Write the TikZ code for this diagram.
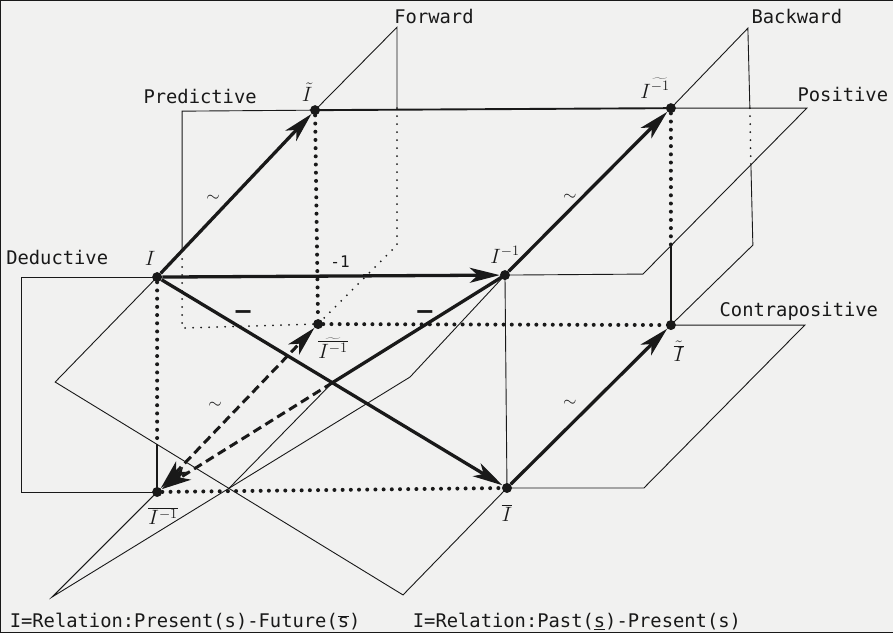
\documentclass[tikz,border=0pt]{standalone}
\usepackage{fontspec}
\newfontfamily\monof{DejaVu Sans Mono}
\newfontfamily\dvs{DejaVu Sans}
\usetikzlibrary{arrows.meta}
\definecolor{bg}{RGB}{241,241,240}
\definecolor{ink}{RGB}{25,25,25}
\begin{document}
\begin{tikzpicture}[x=1pt,y=-1pt,
  every path/.style={draw=ink},
  thinl/.style={line width=0.9pt},
  medl/.style={line width=1.9pt},
  thickarr/.style={line width=3.3pt,-{Stealth[length=30pt,width=15pt,inset=8pt]}},
  bigdots/.style={line width=4pt,line cap=round,dash pattern=on 0pt off 8.2pt},
  smalldots/.style={line width=2pt,line cap=round,dash pattern=on 0pt off 8pt},
  dashthick/.style={line width=3pt,dash pattern=on 9pt off 5pt},
  vtx/.style={circle,fill=ink,draw=none,inner sep=0pt,minimum size=10pt},
  plab/.style={font=\monof\fontsize{18.8}{20}\selectfont,text=ink,inner sep=0pt},
  mlab/.style={font=\fontsize{20.74}{24}\selectfont,text=ink,inner sep=0pt},
  elab/.style={font=\fontsize{17.28}{20}\selectfont,text=ink,inner sep=0pt},
  barlab/.style={font=\dvs\bfseries\fontsize{24}{26}\selectfont,text=ink,inner sep=0pt},
]
\fill[bg,draw=none] (0,0) rectangle (893,632);
\useasboundingbox (0,0) rectangle (893,632);

% vertices of the cube
\node[vtx] (I)    at (157,277) {};
\node[vtx] (It)   at (315,110) {};
\node[vtx] (Ii)   at (505,275) {};
\node[vtx] (Iti)  at (671,108) {};
\node[vtx] (Ib)   at (507,488) {};
\node[vtx] (Ib1)  at (157,492) {};
\node[vtx] (Itb)  at (671,325) {};
\node[vtx] (Itb1) at (318,324) {};

% plane corners
\coordinate (dA) at (21,277);
\coordinate (dB) at (21,492);
\coordinate (pA) at (182,111);
\coordinate (pB) at (182,251);
\coordinate (pC) at (182,328);
\coordinate (posA) at (643,274);
\coordinate (posB) at (807,108);
\coordinate (conA) at (644,488);
\coordinate (conB) at (805,325);
\coordinate (fTop) at (397,27);
\coordinate (fV1) at (397,108);
\coordinate (bBack) at (397,245);
\coordinate (fFront) at (55,382);
\coordinate (fBotFront) at (403,595);
\coordinate (fBack) at (753,245);
\coordinate (bTop) at (748,28);
\coordinate (bV1) at (750,108);
\coordinate (bV2) at (751,163);
\coordinate (bFront) at (410,377);
\coordinate (bBotFront) at (52,597);
\coordinate (iA) at (157,444);
\coordinate (iiA) at (671,246);
\coordinate (C) at (intersection of I.center--Ib.center and Ii.center--Ib1.center);
\coordinate (M) at (intersection of fFront--fBotFront and bFront--bBotFront);

% Deductive plane
\draw[thinl] (I.center) -- (dA) -- (dB) -- (Ib1.center);
\draw[thinl] (Ii.center) -- (Ib.center);
% Predictive plane
\draw[thinl] (It.center) -- (pA) -- (pB);
\draw[smalldots] (pB) -- (pC) -- (Itb1.center);
% Positive plane
\draw[thinl] (Ii.center) -- (posA) -- (posB) -- (Iti.center);
% Contrapositive plane
\draw[thinl] (Ib.center) -- (conA) -- (conB) -- (Itb.center);
% Forward plane
\draw[thinl] (fV1) -- (fTop) -- (It.center);
\draw[thinl] (I.center) -- (fFront) -- (fBotFront) -- (Ib.center);
\draw[thinl] (Itb.center) -- (fBack) -- (bV2);
\draw[smalldots] (fV1) -- (bBack) -- (Itb1.center);
% Backward plane
\draw[thinl] (Iti.center) -- (bTop) -- (bV1);
\draw[smalldots] (bV1) -- (bV2);
\draw[thinl] (Ii.center) -- (bFront) -- (bBotFront) -- (Ib1.center);
\draw[thinl] (M) -- (C);

% cube edges
\draw[bigdots] (It) -- (Itb1);
\draw[bigdots] (I) -- (iA);
\draw[bigdots] (Iti) -- (iiA);
\draw[bigdots] (Itb1) -- (Itb);
\draw[bigdots] (Ib1) -- (Ib);
\draw[medl] (iA) -- (Ib1.center);
\draw[medl] (iiA) -- (Itb.center);
\draw[medl] (It.center) -- (Iti.center);

% arrows
\draw[thickarr] (I) -- (It);
\draw[thickarr] (I) -- (Ii);
\draw[thickarr] (I) -- (Ib);
\draw[thickarr] (Ii) -- (Iti);
\draw[thickarr] (Ib) -- (Itb);
\draw[line width=3.3pt] (Ii.center) -- (C);
\draw[dashthick,-{Stealth[length=30pt,width=15pt,inset=8pt]}] (C) -- (Ib1);
\draw[dashthick,{Stealth[length=30pt,width=15pt,inset=8pt]}-{Stealth[length=30pt,width=15pt,inset=8pt]}] (Ib1) -- (Itb1);

% vertex labels
\node[mlab] (lI) at (150,258) {$I$};
\node[mlab] (lIt) at (307,92) {$\tilde{I}$};
\node[mlab] (lIi) at (505,255) {$I^{-1}$};
\node[mlab] (lIti) at (655,88) {$I^{\widetilde{-1}}$};
\node[mlab] (lItb1) at (333,348) {$\widetilde{\overline{I^{-1}}}$};
\node[mlab] (lIb1) at (163,516) {$\overline{I^{-1}}$};
\node[mlab] (lIb) at (507,513) {$\overline{I}$};
\node[mlab] (lItb) at (679,351) {$\tilde{\overline{I}}$};

% edge labels
\node[elab] (e1) at (213,198) {$\sim$};
\node[elab] (e2) at (570,197) {$\sim$};
\node[elab] (e3) at (570,403) {$\sim$};
\node[elab] (e4) at (215,405) {$\sim$};
\node[barlab] (e5) at (243,315) {−};
\node[barlab] (e6) at (425,315) {−};
\node[plab,font=\monof\fontsize{16}{18}\selectfont] (e7) at (340,262) {-1};

% plane labels
\node[plab] (tF) at (434,16) {Forward};
\node[plab] (tB) at (797,16) {Backward};
\node[plab] (tP) at (200,96) {Predictive};
\node[plab] (tD) at (57,257) {Deductive};
\node[plab] (tPo) at (843,94) {Positive};
\node[plab] (tC) at (799,311) {Contrapositive};
\node[plab] (cap1) at (185,622) {I=Relation:Present(s)-Future(\ensuremath{\overline{\hbox{s}}})};
\node[plab] (cap2) at (577,622) {I=Relation:Past(\underline{s})-Present(s)};
\end{tikzpicture}
\end{document}
